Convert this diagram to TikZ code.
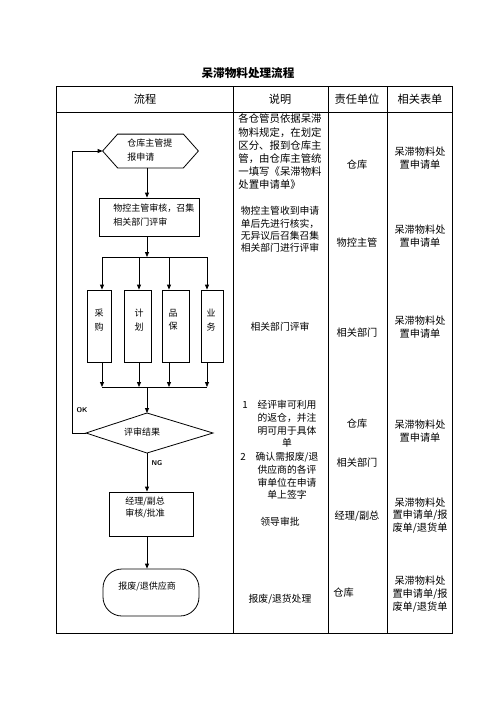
\documentclass[tikz,border=0pt]{standalone}
\usepackage{fontspec}
\setmainfont{Noto Sans CJK SC}
\usetikzlibrary{arrows.meta}
\begin{document}
\begin{tikzpicture}[x=1pt,y=-1pt,line width=0.8pt,
  arr/.style={-{Triangle[length=5pt,width=4pt]}},
  box/.style={draw,inner sep=0pt},
  ghost/.style={inner sep=0pt},
  hd/.style={inner sep=0pt,font=\fontsize{11.2pt}{13pt}\selectfont},
  bd/.style={inner sep=0pt,align=center,font=\fontsize{10.2pt}{13pt}\selectfont},
  fc/.style={inner sep=0pt,align=left,font=\fontsize{9pt}{14pt}\selectfont},
  lab/.style={inner sep=0pt,font=\sffamily\bfseries\fontsize{7pt}{8pt}\selectfont}]
\useasboundingbox (0,0) rectangle (496,702);
% title
\node[inner sep=0pt,font=\bfseries\fontsize{11.6pt}{14pt}\selectfont] (title) at (248,73) {呆滞物料处理流程};
% table
\draw (56,86) rectangle (452,633);
\draw (56,112) -- (452,112);
\draw (233,86) -- (233,633);
\draw (328,86) -- (328,633);
\draw (387,86) -- (387,633);
\node[hd] (h1) at (145,99) {流程};
\node[hd] (h2) at (280,99) {说明};
\node[hd] (h3) at (357,99) {责任单位};
\node[hd] (h4) at (420,99) {相关表单};
% description column
\node[bd,align=left,anchor=west,font=\fontsize{10.4pt}{13.2pt}\selectfont] (d1) at (238,152) {各仓管员依据呆滞\\物料规定，在划定\\区分、报到仓库主\\管，由仓库主管统\\一填写《呆滞物料\\处置申请单》};
\node[bd,font=\fontsize{9.8pt}{12.4pt}\selectfont] (d2) at (280,229.5) {物控主管收到申请\\单后先进行核实，\\无异议后召集召集\\相关部门进行评审};
\node[bd,font=\fontsize{9.8pt}{12pt}\selectfont] (d3) at (280,327) {相关部门评审};
\node[bd,font=\fontsize{9.8pt}{12.7pt}\selectfont] (n1) at (245,405) {1};
\node[bd,font=\fontsize{9.8pt}{12.7pt}\selectfont] (d4) at (287,424) {经评审可利用\\的返仓，并注\\明可用于具体\\单};
\node[bd,font=\fontsize{9.8pt}{12.7pt}\selectfont] (n2) at (243,457) {2};
\node[bd,font=\fontsize{9.8pt}{12.7pt}\selectfont] (d5) at (287,476) {确认需报废/退\\供应商的各评\\审单位在申请\\单上签字};
\node[bd,font=\fontsize{9.8pt}{12pt}\selectfont] (d6) at (280,522) {领导审批};
\node[bd,font=\fontsize{9.8pt}{12pt}\selectfont] (d7) at (280,599) {报废/退货处理};
% responsible column
\node[bd] (r1) at (357,165) {仓库};
\node[bd] (r2) at (357,243) {物控主管};
\node[bd] (r3) at (357,333) {相关部门};
\node[bd] (r4) at (357,424) {仓库};
\node[bd] (r5) at (357,463) {相关部门};
\node[bd] (r6) at (357,516) {经理/副总};
\node[bd,anchor=west] (r7) at (333,593) {仓库};
% forms column
\node[bd] (f1) at (420,158) {呆滞物料处\\置申请单};
\node[bd] (f2) at (420,236.5) {呆滞物料处\\置申请单};
\node[bd] (f3) at (420,327) {呆滞物料处\\置申请单};
\node[bd] (f4) at (420,431.5) {呆滞物料处\\置申请单};
\node[bd,font=\fontsize{10.2pt}{12.6pt}\selectfont] (f5) at (420,515.5) {呆滞物料处\\置申请单/报\\废单/退货单};
\node[bd] (f6) at (420,594) {呆滞物料处\\置申请单/报\\废单/退货单};
% flowchart shapes
\node[ghost,minimum width=95pt,minimum height=33pt] (hex) at (150.5,151) {};
\draw (hex.west) -- ([xshift=15pt]hex.north west) -- ([xshift=-15pt]hex.north east) -- (hex.east) -- ([xshift=-15pt]hex.south east) -- ([xshift=15pt]hex.south west) -- cycle;
\node[fc,anchor=west] (hext) at (127,150) {仓库主管提\\报申请};
\node[box,minimum width=100pt,minimum height=38pt] (audit) at (149,217) {};
\node[fc,anchor=west] (auditt) at (113,215) {物控主管审核，召集\\相关部门评审};
\node[box,minimum width=24pt,minimum height=72pt] (b1) at (99,326) {};
\node[box,minimum width=27pt,minimum height=72pt] (b2) at (137.5,326) {};
\node[box,minimum width=27pt,minimum height=72pt] (b3) at (175.5,326) {};
\node[box,minimum width=22pt,minimum height=72pt] (b4) at (212,326) {};
\node[fc,align=center,font=\fontsize{9pt}{13.5pt}\selectfont] (b1t) at (99,320) {采\\购};
\node[fc,align=center,font=\fontsize{9pt}{13.5pt}\selectfont] (b2t) at (139,320) {计\\划};
\node[fc,align=center,font=\fontsize{9pt}{13.5pt}\selectfont] (b3t) at (173,320) {品\\保};
\node[fc,align=center,font=\fontsize{9pt}{13.5pt}\selectfont] (b4t) at (211,320) {业\\务};
\node[ghost] (dia) at (147,433) {};
\draw ([xshift=-61pt]dia.center) -- ([yshift=20pt]dia.center) -- ([xshift=66pt]dia.center) -- ([yshift=-20pt]dia.center) -- cycle;
\node[fc] (diat) at (142,432) {评审结果};
\node[box,minimum width=84pt,minimum height=44pt] (mgr) at (151,514) {};
\node[fc,anchor=west,font=\fontsize{9pt}{12pt}\selectfont] (mgrt) at (125,508) {经理/副总\\审核/批准};
\node[box,rounded corners=19pt,minimum width=96pt,minimum height=47pt] (term) at (151,592.5) {};
\node[fc,anchor=west] (termt) at (118,586) {报废/退供应商};
\node[lab] (ok) at (82,410) {OK};
\node[lab] (ng) at (157,463) {NG};
% junction coordinates
\coordinate (tl) at (102,257);
\coordinate (t2) at (139,257);
\coordinate (t3) at (169,257);
\coordinate (tr) at (207,257);
\coordinate (bl) at (102,387);
\coordinate (bb2) at (139,387);
\coordinate (bb3) at (169,387);
\coordinate (br) at (207,387);
\coordinate (sp) at (147,257);
\coordinate (sq) at (147,387);
% connectors
\draw[arr] (hex.south -| sp) -- (audit.north -| sp);
\draw[arr] (audit.south -| sp) -- (sp);
\draw (tl) -- (tr);
\draw[arr] (tl) -- (tl |- b1.north);
\draw[arr] (t2) -- (t2 |- b2.north);
\draw[arr] (t3) -- (t3 |- b3.north);
\draw[arr] (tr) -- (tr |- b4.north);
\draw[arr] (b1.south -| bl) -- (bl);
\draw[arr] (b2.south -| bb2) -- (bb2);
\draw[arr] (b3.south -| bb3) -- (bb3);
\draw[arr] (b4.south -| br) -- (br);
\draw (bl) -- (br);
\draw[arr] (sq) -- ([yshift=20pt]dia.center);
\draw[arr] ([yshift=-20pt]dia.center) -- (mgr.north -| dia);
\draw[arr] (mgr.south -| dia) -- (term.north -| dia);
\draw[arr] ([xshift=-61pt]dia.center) -- ++(-14,0) |- (hex.west);
\end{tikzpicture}
\end{document}
